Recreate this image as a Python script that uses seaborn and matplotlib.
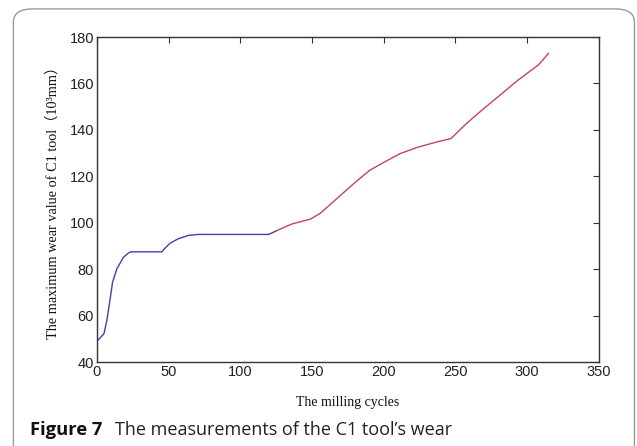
import matplotlib.pyplot as plt
import seaborn as sns
import pandas as pd
from matplotlib.patches import FancyBboxPatch

early_cycles = [0, 5, 7, 9, 11, 14, 18.5, 22, 24, 30, 40, 45.4, 46.8, 51, 57, 64, 71, 80, 100, 119.8, 122, 125]
early_wear = [48.9, 52.3, 58, 66, 74.5, 80.2, 85.1, 87, 87.5, 87.5, 87.5, 87.5, 88.6, 91.2, 93.2, 94.6, 95.0, 95.0, 95.0, 95.0, 95.6, 96.5]
late_cycles = [125, 136, 149, 156, 167.5, 179, 190, 200, 211.5, 224, 237, 247, 258, 270, 281, 292, 301, 308, 315]
late_wear = [96.5, 99.5, 101.6, 104.2, 110.5, 116.8, 122.5, 126, 129.8, 132.6, 134.8, 136.3, 142.9, 149.3, 154.9, 160.6, 164.8, 168, 173]

x_ticks = [0, 50, 100, 150, 200, 250, 300, 350]
y_ticks = [40, 60, 80, 100, 120, 140, 160, 180]

df = pd.concat([
    pd.DataFrame({'cycles': early_cycles, 'wear': early_wear, 'seg': 'early'}),
    pd.DataFrame({'cycles': late_cycles, 'wear': late_wear, 'seg': 'late'}),
])

sns.set_theme(style="white")
plt.rcParams['font.family'] = ['Liberation Sans', 'DejaVu Sans']

fig = plt.figure(figsize=(6.37, 4.46), dpi=100)
ax = fig.add_axes([0.152, 0.188, 0.788, 0.729])

sns.lineplot(data=df, x='cycles', y='wear', hue='seg', palette={'early': '#4040b0', 'late': '#c8406a'},
             estimator=None, sort=False, legend=False, linewidth=1.0, ax=ax)

ax.set_xlim(0, 350)
ax.set_ylim(40, 180)
ax.set_xticks(x_ticks)
ax.set_yticks(y_ticks)
ax.tick_params(direction='in', length=4, width=0.8, color='#333333', top=True, right=True,
               labelsize=10.5, labelcolor='#222222', pad=2)
for s in ax.spines.values():
    s.set_color('#333333')
    s.set_linewidth(1.0)

ax.set_xlabel('The milling cycles', fontsize=10, family='Liberation Serif', color='#111111', labelpad=12)
ax.set_ylabel('The maximum wear value of C1 tool\uff0810\u00b3mm\uff09', fontsize=10.3,
              family=['Liberation Serif', 'Noto Sans CJK SC'], color='#111111', labelpad=7)

# Rahmen und Bildunterschrift
frame = FancyBboxPatch((0.021, -0.05), 0.975, 1.03, boxstyle='round,pad=0,rounding_size=0.03',
                       transform=fig.transFigure, fill=False, edgecolor='#9a9a9a', linewidth=1.0)
fig.patches.append(frame)
fig.text(0.047, 0.025, 'Figure 7', fontsize=13.2, fontweight='bold', family='Open Sans', va='baseline', color='#111111')
fig.text(0.181, 0.025, 'The measurements of the C1 tool\u2019s wear', fontsize=13, family='Open Sans',
         va='baseline', color='#222222')

fig.savefig('out.png', dpi=100)
